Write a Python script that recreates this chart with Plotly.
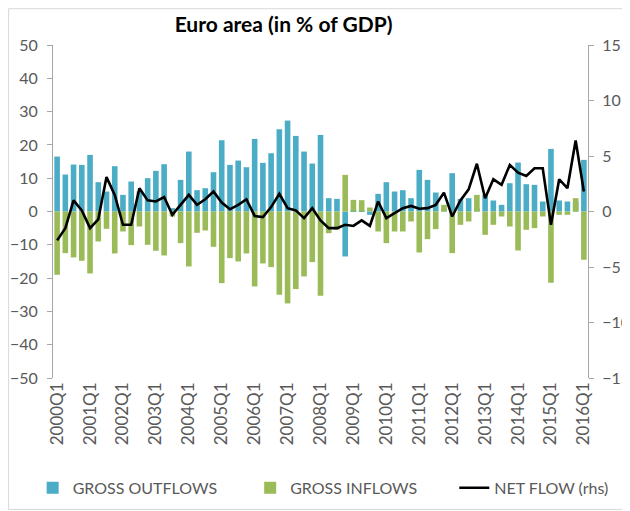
import plotly.graph_objects as go

# Quarterly categories 2000Q1 .. 2016Q1
quarters = [f"{y}Q{q}" for y in range(2000, 2017) for q in range(1, 5)][:65]
tick_labels = [f"{y}Q1" for y in range(2000, 2017)]

# Gross outflows (% of GDP, left axis)
gross_outflows = [
    16.5, 11.1, 14.1, 14.0, 17.0, 8.8, 6.0, 13.6,
    5.0, 9.0, 6.0, 10.0, 12.2, 14.2, 1.0, 9.5,
    18.0, 6.4, 7.0, 11.8, 21.4, 14.0, 15.3, 13.3,
    21.8, 14.6, 17.5, 24.7, 27.3, 22.7, 18.0, 14.4,
    23.0, 4.0, 3.8, -13.5, 0.5, 0.5, -1.0, 5.3,
    8.8, 6.0, 6.4, 4.0, 12.5, 9.5, 5.7, 1.0,
    11.5, 3.8, 4.0, 1.0, 5.0, 3.3, 2.0, 8.5,
    14.7, 8.2, 8.0, 3.0, 18.8, 3.3, 3.0, 3.0,
    15.5,
]

# Gross inflows (% of GDP, left axis)
gross_inflows = [
    -19.0, -12.5, -13.8, -14.8, -18.6, -9.0, -5.2, -12.6,
    -6.0, -10.1, -4.5, -10.0, -11.8, -13.2, -1.5, -9.5,
    -16.5, -6.4, -5.7, -10.6, -21.5, -14.0, -15.0, -12.6,
    -22.5, -15.6, -16.7, -25.0, -27.6, -23.3, -19.5, -15.2,
    -25.3, -6.5, -5.5, 11.0, 3.5, 3.4, 1.2, -6.0,
    -9.5, -6.0, -6.0, -3.0, -12.3, -8.3, -5.3, 2.0,
    -12.5, -4.0, -3.0, 5.0, -7.0, -4.0, -1.5, -4.5,
    -11.7, -5.5, -5.0, -1.5, -21.4, -1.0, -1.0, 4.0,
    -14.5,
]

# Net flow (% of GDP, right axis)
net_flow = [
    -2.6, -1.5, 1.0, 0.1, -1.5, -0.7, 3.1, 1.5,
    -1.2, -1.2, 2.1, 1.0, 0.9, 1.3, -0.3, 0.6,
    1.5, 0.6, 1.1, 1.8, 0.8, 0.2, 0.6, 1.1,
    -0.4, -0.5, 0.4, 1.6, 0.3, 0.1, -0.6, 0.3,
    -0.8, -1.5, -1.5, -1.2, -1.3, -0.8, -1.3, 0.9,
    -0.6, -0.15, 0.3, 0.5, 0.25, 0.3, 0.6, 1.7,
    -0.45, 1.0, 2.0, 4.3, 1.2, 2.9, 2.4, 4.2,
    3.5, 3.2, 3.9, 3.9, -1.2, 2.9, 2.1, 6.4,
    1.8,
]

BLUE = "#4BACC6"
GREEN = "#9BBB59"
GREY = "#595959"
FONT = "Lato"
# spacing between legend entries
PAD1 = "\u2002" * 3 + "\u00a0"
PAD2 = "\u2002" * 4

fig = go.Figure()

fig.add_trace(go.Bar(x=quarters, y=gross_outflows, name="GROSS OUTFLOWS" + PAD1,
                     marker=dict(color=BLUE, line=dict(width=0)), width=0.68))
fig.add_trace(go.Bar(x=quarters, y=gross_inflows, name="GROSS INFLOWS" + PAD2,
                     marker=dict(color=GREEN, line=dict(width=0)), width=0.68))
fig.add_trace(go.Scatter(x=quarters, y=net_flow, name="NET FLOW (rhs)", yaxis="y2",
                         mode="lines", line=dict(color="black", width=2.6)))

fig.update_layout(
    width=622, height=503,
    margin=dict(l=45, r=42, t=37, b=133, autoexpand=False),
    paper_bgcolor="white", plot_bgcolor="white",
    barmode="overlay",
    font=dict(family=FONT, color=GREY, size=16),
    title=dict(text="<b>Euro area (in % of GDP)</b>", x=0.443, xanchor="center",
               y=0.966, yanchor="middle", font=dict(size=21, color="black")),
    xaxis=dict(type="category", range=[-0.5, 64.5], tickmode="array",
               tickvals=tick_labels, ticktext=tick_labels, tickangle=-90,
               tickfont=dict(size=17), showline=False, ticks="",
               showgrid=False, zeroline=False),
    yaxis=dict(range=[-50, 50], dtick=10, showgrid=False, zeroline=False,
               showline=True, linecolor="#A6A6A6", linewidth=1,
               ticks="outside", ticklen=5, tickcolor="#A6A6A6",
               ticklabelstandoff=6),
    yaxis2=dict(range=[-15, 15], dtick=5, overlaying="y", side="right",
                showgrid=False, zeroline=False, showline=True,
                linecolor="#A6A6A6", linewidth=1, ticks="outside", ticklen=5,
                tickcolor="#A6A6A6", ticklabelstandoff=5),
    legend=dict(orientation="h", x=-0.038, xanchor="left", y=-0.33, yanchor="middle",
                font=dict(size=16, color=GREY), traceorder="normal",
                bgcolor="rgba(0,0,0,0)"),
    shapes=[dict(type="rect", xref="paper", yref="paper",
                 x0=-0.083, x1=1.076, y0=-0.395, y1=1.109,
                 line=dict(color="#D9D9D9", width=1))],
)

fig.write_html("out.html")
